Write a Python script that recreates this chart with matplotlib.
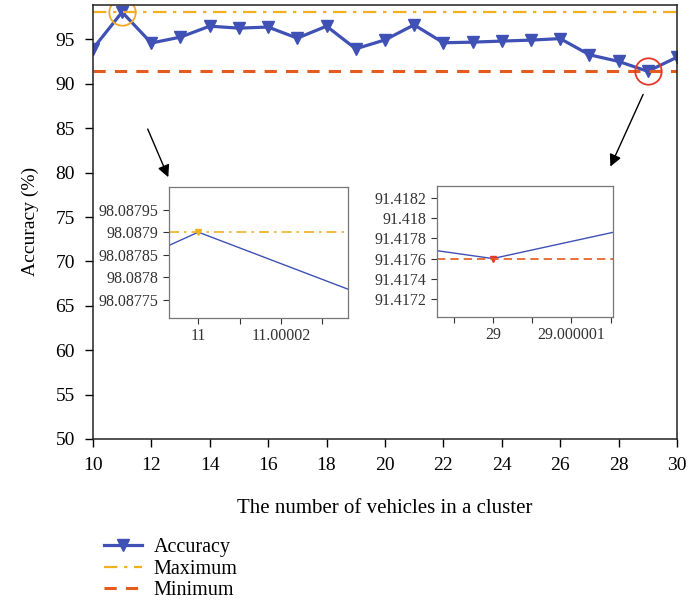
import numpy as np
import matplotlib
matplotlib.use("Agg")
import matplotlib.pyplot as plt
from matplotlib.ticker import FixedLocator, FixedFormatter

plt.rcParams['font.family'] = ['Liberation Serif', 'DejaVu Serif']

# data
vehicles = [10, 11, 12, 13, 14, 15, 16, 17, 18, 19, 20,
            21, 22, 23, 24, 25, 26, 27, 28, 29, 30]
accuracy = [93.95, 98.0879, 94.6, 95.27, 96.5, 96.28, 96.4, 95.15, 96.5, 93.95, 94.95,
            96.65, 94.63, 94.7, 94.82, 94.93, 95.1, 93.28, 92.53, 91.4176, 93.0]
acc_max = 98.0879
acc_min = 91.4176

# zoomed view near the minimum (as drawn in the reference inset)
zoom2_x = [28.999999, 29.0, 29.000002]
zoom2_y = [91.41771, 91.4176, 91.41794]

xticks = [10, 12, 14, 16, 18, 20, 22, 24, 26, 28, 30]
yticks = [50, 55, 60, 65, 70, 75, 80, 85, 90, 95]

in1_yticks = [98.08775, 98.0878, 98.08785, 98.0879, 98.08795]
in1_ylabels = ['98.08775', '98.0878', '98.08785', '98.0879', '98.08795']
in1_xticks = [11.0, 11.00001, 11.00002, 11.00003]
in1_xlabels = ['11', '', '11.00002', '']

in2_yticks = [91.4172, 91.4174, 91.4176, 91.4178, 91.418, 91.4182]
in2_ylabels = ['91.4172', '91.4174', '91.4176', '91.4178', '91.418', '91.4182']
in2_xticks = [28.9999995, 29.0, 29.0000005, 29.000001, 29.0000015]
in2_xlabels = ['', '29', '', '29.000001', '']

blue = '#3f51b5'
gold = '#f0b020'
orange = '#e55a1e'

fig = plt.figure(figsize=(6.88, 6.08), dpi=100)
ax = fig.add_axes([0.135, 0.278, 0.849, 0.714])

ax.plot(vehicles, accuracy, '-v', color=blue, lw=2.3, markersize=8, label='Accuracy')
ax.axhline(acc_max, color=gold, lw=1.6, ls='-.', label='Maximum', dashes=(6, 3, 1.5, 3))
ax.axhline(acc_min, color=orange, lw=2.2, ls='--', label='Minimum', dashes=(4, 3))

# circles around the extremes
i_max = int(np.argmax(accuracy))
i_min = int(np.argmin(accuracy))
ax.plot(vehicles[i_max], accuracy[i_max], 'o', ms=19, mfc='none', mec='#f5a623', mew=1.3)
ax.plot(vehicles[i_min], accuracy[i_min], 'o', ms=19, mfc='none', mec='#e8362a', mew=1.3)

ax.annotate('', xy=(12.62, 79.2), xytext=(11.84, 85.2),
            arrowprops=dict(arrowstyle='-|>', color='k', lw=1, mutation_scale=18))
ax.annotate('', xy=(27.68, 80.4), xytext=(28.88, 89.1),
            arrowprops=dict(arrowstyle='-|>', color='k', lw=1, mutation_scale=18))

ax.set_xlim(10, 30)
ax.set_ylim(50, 98.9)
ax.set_xticks(xticks)
ax.set_yticks(yticks)
ax.tick_params(direction='out', length=6, width=1, labelsize=14, pad=7)
for s in ax.spines.values():
    s.set_linewidth(1.1)
    s.set_color('#222222')
ax.set_xlabel('The number of vehicles in a cluster', fontsize=15, labelpad=18)
ax.set_ylabel('Accuracy (%)', fontsize=14, labelpad=12)

# inset at the maximum
ins1 = fig.add_axes([0.2456, 0.477, 0.2602, 0.2155])
ins1.plot(vehicles, accuracy, '-', color=blue, lw=1)
ins1.plot(vehicles[i_max], accuracy[i_max], 'v', color=gold, ms=5)
ins1.axhline(acc_max, color=gold, lw=1.2, ls='-.', dashes=(6, 3, 1.5, 3))
ins1.set_xlim(10.9999929, 11.0000362)
ins1.set_ylim(98.08771, 98.08800)
ins1.yaxis.set_major_locator(FixedLocator(in1_yticks))
ins1.yaxis.set_major_formatter(FixedFormatter(in1_ylabels))
ins1.xaxis.set_major_locator(FixedLocator(in1_xticks))
ins1.xaxis.set_major_formatter(FixedFormatter(in1_xlabels))

# inset at the minimum
ins2 = fig.add_axes([0.6352, 0.4786, 0.2558, 0.2155])
ins2.plot(zoom2_x, zoom2_y, '-', color=blue, lw=1)
ins2.plot(vehicles[i_min], acc_min, 'v', color='#e8362a', ms=5)
ins2.axhline(acc_min, color=orange, lw=1.2, ls='--', dashes=(5, 3))
ins2.set_xlim(28.99999929, 29.00000153)
ins2.set_ylim(91.41702, 91.41832)
ins2.yaxis.set_major_locator(FixedLocator(in2_yticks))
ins2.yaxis.set_major_formatter(FixedFormatter(in2_ylabels))
ins2.xaxis.set_major_locator(FixedLocator(in2_xticks))
ins2.xaxis.set_major_formatter(FixedFormatter(in2_xlabels))

for ins in (ins1, ins2):
    ins.tick_params(direction='out', length=4, width=0.8, labelsize=11.5, colors='#333333')
    for s in ins.spines.values():
        s.set_linewidth(0.9)
        s.set_color('#777777')

fig.legend(loc='upper left', bbox_to_anchor=(0.13, 0.138), frameon=False,
           fontsize=14.5, handlelength=1.9, handletextpad=0.6,
           labelspacing=0.12, borderpad=0.2)

fig.savefig('out.png', dpi=100)
